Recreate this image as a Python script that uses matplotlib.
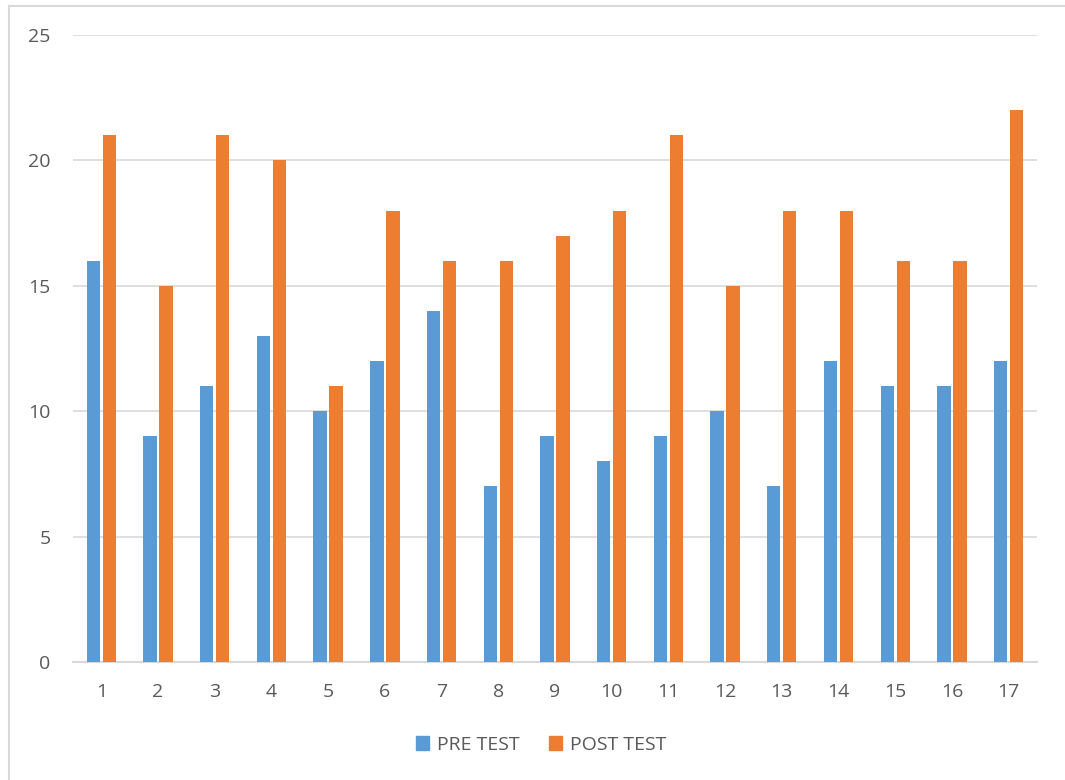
import numpy as np
import matplotlib.pyplot as plt
from matplotlib.patches import Patch

# Scores per student
students = [str(i) for i in range(1, 18)]
pre_test = [16, 9, 11, 13, 10, 12, 14, 7, 9, 8, 9, 10, 7, 12, 11, 11, 12]
post_test = [21, 15, 21, 20, 11, 18, 16, 16, 17, 18, 21, 15, 18, 18, 16, 16, 22]
y_ticks = [0, 5, 10, 15, 20, 25]

blue = '#5b9bd5'
orange = '#ed7d31'
grey_text = '#595959'

plt.rcParams['font.family'] = ['Open Sans', 'DejaVu Sans']

fig = plt.figure(figsize=(10.65, 7.8), dpi=100)
ax = fig.add_axes([0.0685, 0.1513, 0.9052, 0.8038])

x = np.arange(len(students))
w = 0.235
ax.bar(x - 0.141, pre_test, width=w, color=blue, zorder=3)
ax.bar(x + 0.141, post_test, width=w, color=orange, zorder=3)

ax.set_xlim(-0.5, len(students) - 0.5)
ax.set_ylim(0, 25)
ax.set_yticks(y_ticks)
ax.set_xticks(x)
ax.set_xticklabels(students)
ax.yaxis.grid(True, color='#d9d9d9', linewidth=1.2, zorder=0)
for s in ['top', 'right', 'left']:
    ax.spines[s].set_visible(False)
ax.spines['bottom'].set_color('#d9d9d9')
ax.spines['bottom'].set_linewidth(1.5)
ax.tick_params(length=0, labelsize=14, colors=grey_text)
ax.tick_params(axis='y', pad=16)
ax.tick_params(axis='x', pad=15)

handles = [Patch(color=blue, label='PRE TEST'),
           Patch(color=orange, label='POST TEST')]
leg = fig.legend(handles=handles, loc='center', bbox_to_anchor=(0.508, 0.045),
                 ncol=2, frameon=False, fontsize=14, handlelength=0.7,
                 handleheight=0.7, handletextpad=0.4, columnspacing=1.5)
for t in leg.get_texts():
    t.set_color(grey_text)

# thin chart-area border
fig.add_artist(plt.Line2D([0.0085, 0.0085], [0, 0.9923], color='#d9d9d9',
                          linewidth=1.5, transform=fig.transFigure))
fig.add_artist(plt.Line2D([0.0085, 1], [0.9923, 0.9923], color='#d9d9d9',
                          linewidth=1.5, transform=fig.transFigure))

fig.savefig('out.png', dpi=100)
